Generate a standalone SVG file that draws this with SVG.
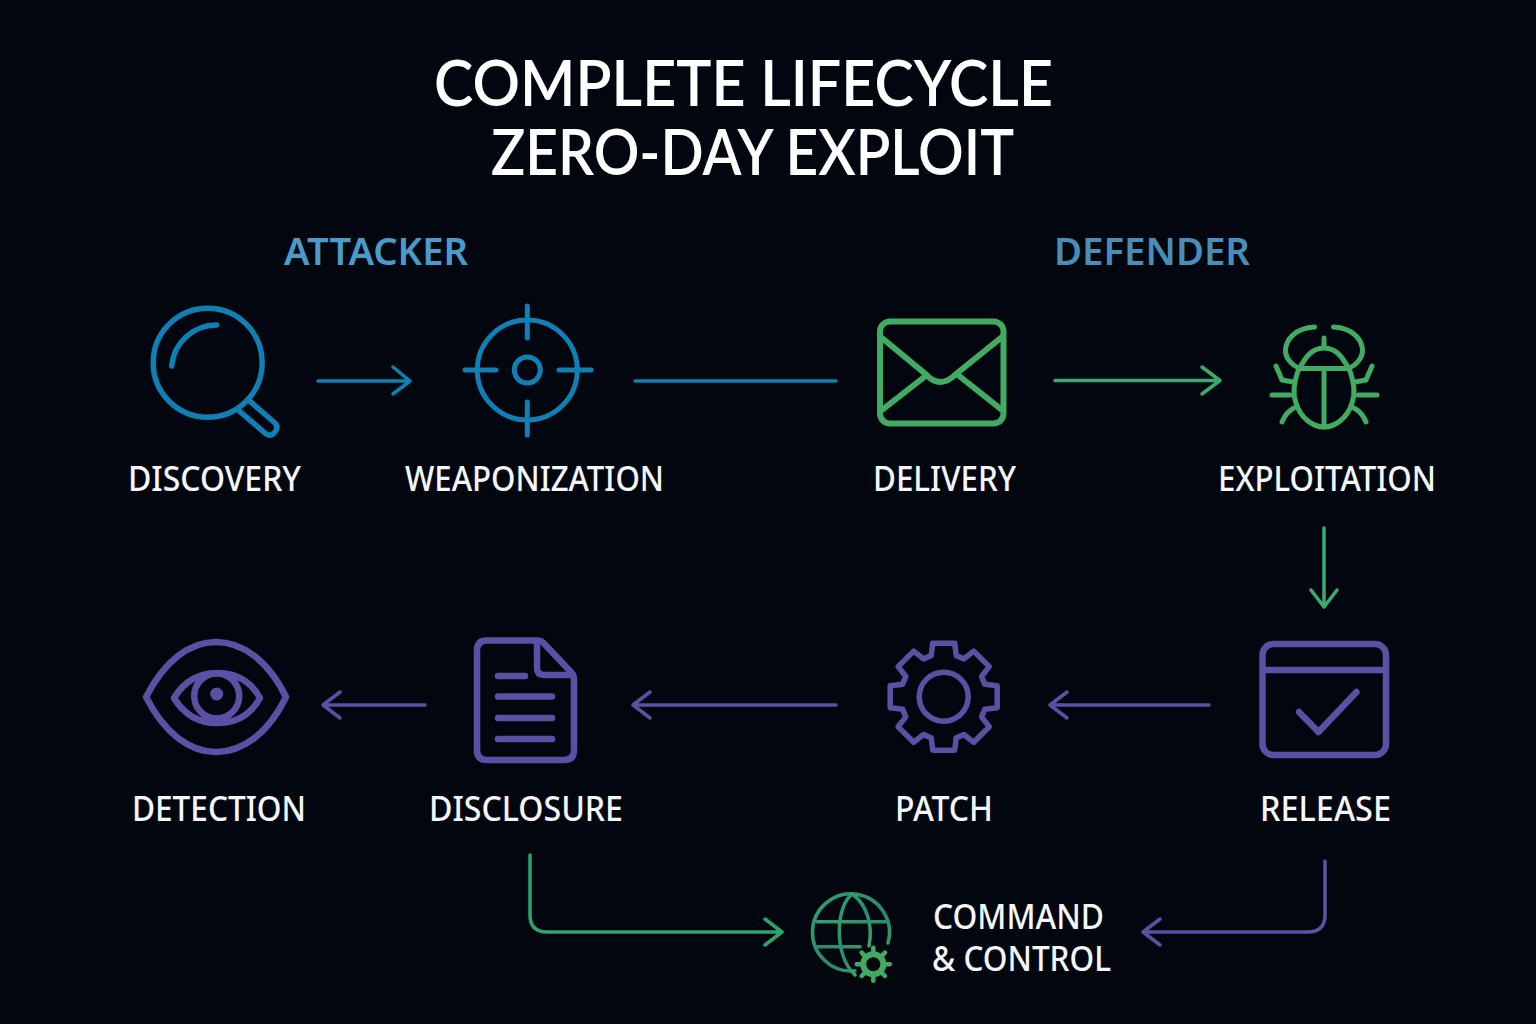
<svg xmlns="http://www.w3.org/2000/svg" width="1536" height="1024" viewBox="0 0 1536 1024">
<style>
text{font-family:"Noto Sans","Open Sans","Liberation Sans",sans-serif}
.t{font-size:64px;font-weight:600;fill:#fff;font-family:Lato,"Noto Sans",sans-serif}
.h{font-size:37px;font-weight:600}
.l{font-size:35px;font-weight:500;fill:#f4f6f8}
.i,.c{fill:none;stroke-linecap:round;stroke-linejoin:round}
.b{stroke:#0f7fb4}.g{stroke:#41ab63}.p{stroke:#5b50a3}
.c{stroke-width:3.5}
</style>
<defs>
<path id="tooth" d="M-16.4-39.5L-12.5-41L-11-53.5L11-53.5L12.5-41L16.4-39.5"/>
<line id="smalltooth" x1="0" y1="-12" x2="0" y2="-16.5"/>
<linearGradient id="globeGrad" x1="0" y1="0" x2="1" y2="1"><stop offset="0" stop-color="#2f9f70"/><stop offset="0.6" stop-color="#2d8a68"/><stop offset="1" stop-color="#35a86a"/></linearGradient>
</defs>
<rect width="1536" height="1024" fill="#02070f"/>
<g id="title">
<text class="t" x="434" y="106" textLength="619" lengthAdjust="spacingAndGlyphs">COMPLETE LIFECYCLE</text>
<text class="t" x="491" y="175" textLength="523" lengthAdjust="spacingAndGlyphs">ZERO-DAY EXPLOIT</text>
</g>
<g id="group-labels">
<text class="h" x="284" y="265" fill="#4a9bcb" textLength="184" lengthAdjust="spacingAndGlyphs">ATTACKER</text>
<text class="h" x="1054" y="265" fill="#4a8dbb" textLength="196" lengthAdjust="spacingAndGlyphs">DEFENDER</text>
</g>
<g id="connectors">
<path class="c b" d="M318 381H409M393 367L410 381L393 394"/>
<path class="c b" d="M635 381H836"/>
<path class="c" stroke="#3aab70" d="M1055 380.500H1219M1202 367L1220 380.500L1202 394"/>
<path class="c" stroke="#3aab70" d="M1324 528V606M1311 590L1324 607L1337 590"/>
<path class="c p" d="M1209 705H1050M1067 692L1050 705L1067 718"/>
<path class="c p" d="M836 705H633M650 692L633 705L650 718"/>
<path class="c p" d="M425 705H323M340 692L323 705L340 718"/>
<path class="c" stroke="#2ea36b" d="M530 855V915Q530 932 547 932H781M765 919L782 932L765 945"/>
<path class="c p" d="M1325 861V915Q1325 932 1308 932H1143M1160 919L1143 932L1160 945"/>
</g>
<g id="discovery">
<g class="i b" stroke-width="5.500">
<circle cx="207.700" cy="362.700" r="54.500"/>
<path d="M171.700 366A45 45 0 0 1 216.700 325"/>
<path d="M240 411.700L266 434Q271 437 275 432Q279 427 275 423L248.500 400"/>
</g>
<text class="l" x="128" y="491" textLength="173" lengthAdjust="spacingAndGlyphs">DISCOVERY</text>
</g>
<g id="weaponization">
<g class="i b" stroke-width="5">
<circle cx="527.300" cy="370" r="50"/>
<circle cx="527.300" cy="370" r="13"/>
<path d="M527.300 306V338M527.300 402V435M465 370H496M559 370H591"/>
</g>
<text class="l" x="405" y="491" textLength="259" lengthAdjust="spacingAndGlyphs">WEAPONIZATION</text>
</g>
<g id="delivery">
<g class="i g" stroke-width="6">
<rect x="880" y="321.500" width="123.500" height="102" rx="10"/>
<path d="M882 338L925.500 374Q940 390 956 374L1002 337"/>
<path d="M882 410L925.500 376M958 375L1002 410"/>
</g>
<text class="l" x="873" y="491" textLength="143" lengthAdjust="spacingAndGlyphs">DELIVERY</text>
</g>
<g id="exploitation">
<g class="i g" stroke-width="5">
<path d="M1324 348C1310 348 1304 360 1298 371C1293 385 1293 395 1296 403C1300 417 1312 427 1324 427C1336 427 1348 417 1352 403C1355 395 1355 385 1350 371C1344 360 1338 348 1324 348Z"/>
<path d="M1300 368.500H1348M1324 368.500V427M1324 338V346"/>
<path d="M1314.500 327C1295 328 1285 340 1285.500 352C1286 358 1292 366 1300 368"/>
<path d="M1333.500 327C1353 328 1363 340 1362.500 352C1362 358 1356 366 1348 368"/>
<path d="M1272 395H1290M1358 395H1377M1276 366L1282 380L1293 382M1372 366L1366 380L1355 382M1282 422Q1286 412 1294 408M1366 422Q1362 412 1354 408"/>
</g>
<text class="l" x="1218" y="491" textLength="218" lengthAdjust="spacingAndGlyphs">EXPLOITATION</text>
</g>
<g id="detection">
<g class="i p" stroke-width="6.500">
<path d="M146 697C165 660 190 642 216 642C242 642 268 660 286 697C268 734 242 752 216 752C190 752 165 734 146 697Z"/>
<path d="M174 698C185 680 200 673 217 673C234 673 250 680 260 698C250 716 234 723 217 723C200 723 185 716 174 698Z"/>
<circle cx="216.700" cy="696" r="22.500"/>
</g>
<circle cx="216.700" cy="694" r="6.500" fill="#5b50a3"/>
<text class="l" x="132" y="821" textLength="174" lengthAdjust="spacingAndGlyphs">DETECTION</text>
</g>
<g id="disclosure">
<g class="i p" stroke-width="6.500">
<path d="M487 640.500H538Q541 640.500 543 642.500L571 672Q574 675 574 679V750Q574 760 564 760H487Q477 760 477 750V650.500Q477 640.500 487 640.500Z"/>
<path d="M537 642V668Q537 675 544 675H573"/>
<path d="M498 676H525M498 696.500H552M498 718H552M498 739H552"/>
</g>
<text class="l" x="429" y="821" textLength="194" lengthAdjust="spacingAndGlyphs">DISCLOSURE</text>
</g>
<g id="patch">
<g class="i p" stroke-width="5.500" transform="translate(943.700 696.700)">
<circle r="24.500"/>
<use href="#tooth"/>
<use href="#tooth" transform="rotate(45)"/>
<use href="#tooth" transform="rotate(90)"/>
<use href="#tooth" transform="rotate(135)"/>
<use href="#tooth" transform="rotate(180)"/>
<use href="#tooth" transform="rotate(225)"/>
<use href="#tooth" transform="rotate(270)"/>
<use href="#tooth" transform="rotate(315)"/>
</g>
<text class="l" x="895" y="821" textLength="98" lengthAdjust="spacingAndGlyphs">PATCH</text>
</g>
<g id="release">
<g class="i p" stroke-width="6.500">
<rect x="1262.500" y="644" width="123.500" height="111" rx="11"/>
<path d="M1263 670H1386"/>
<path d="M1299 712L1318.500 732L1356.500 692"/>
</g>
<text class="l" x="1260" y="821" textLength="131" lengthAdjust="spacingAndGlyphs">RELEASE</text>
</g>
<g id="command-control">
<g class="i" stroke="url(#globeGrad)" stroke-width="3.500">
<path d="M888 943A38.500 38.500 0 1 0 855 970.700"/>
<path d="M817 921.700H888M817 946.700H860"/>
<path d="M852.500 894C836 905 833 955 855 975"/>
<path d="M852.500 894C867 905 873 925 869 946"/>
</g>
<g class="i g" transform="translate(873.300 964.300)">
<circle r="10" stroke-width="6"/>
<g stroke-width="4.500">
<use href="#smalltooth"/>
<use href="#smalltooth" transform="rotate(45)"/>
<use href="#smalltooth" transform="rotate(90)"/>
<use href="#smalltooth" transform="rotate(135)"/>
<use href="#smalltooth" transform="rotate(180)"/>
<use href="#smalltooth" transform="rotate(225)"/>
<use href="#smalltooth" transform="rotate(270)"/>
<use href="#smalltooth" transform="rotate(315)"/>
</g>
</g>
<text class="l" x="933" y="929" textLength="171" lengthAdjust="spacingAndGlyphs">COMMAND</text>
<text class="l" x="932" y="971" textLength="179" lengthAdjust="spacingAndGlyphs">&amp; CONTROL</text>
</g>
</svg>
